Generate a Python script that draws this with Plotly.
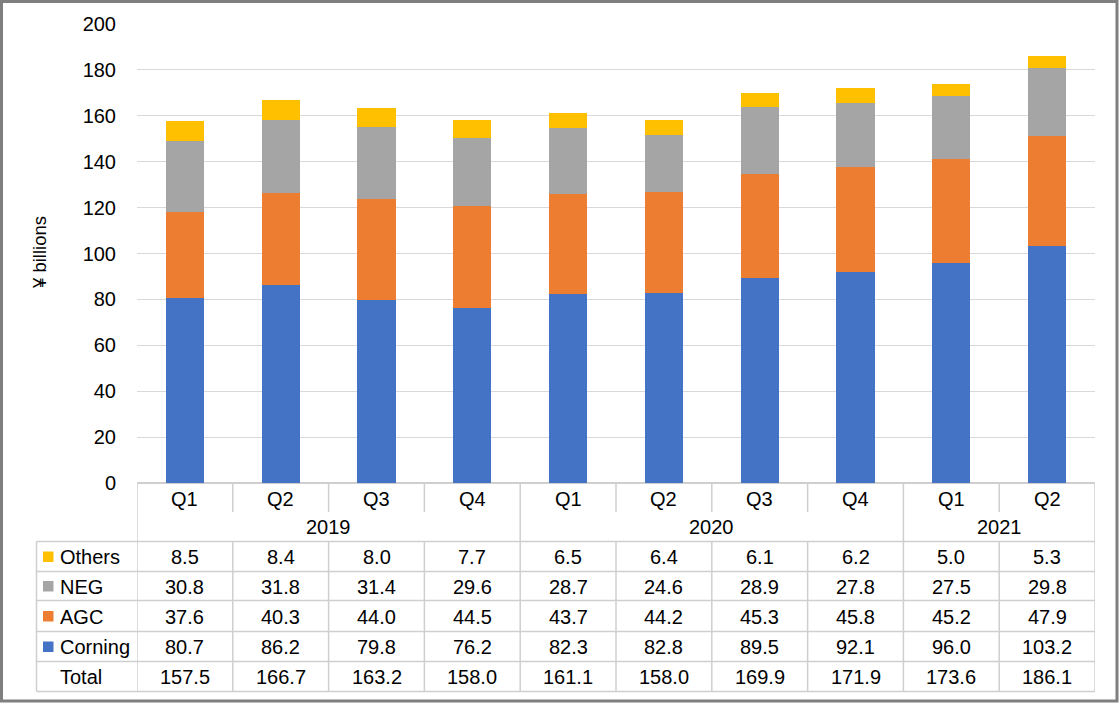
import plotly.graph_objects as go

# ---------------- data ----------------
quarters = ["Q1", "Q2", "Q3", "Q4", "Q1", "Q2", "Q3", "Q4", "Q1", "Q2"]
years = ["2019", "2019", "2019", "2019", "2020", "2020", "2020", "2020", "2021", "2021"]
series_names = ["Corning", "AGC", "NEG", "Others"]
corning = [80.7, 86.2, 79.8, 76.2, 82.3, 82.8, 89.5, 92.1, 96.0, 103.2]
agc = [37.6, 40.3, 44.0, 44.5, 43.7, 44.2, 45.3, 45.8, 45.2, 47.9]
neg = [30.8, 31.8, 31.4, 29.6, 28.7, 24.6, 28.9, 27.8, 27.5, 29.8]
others = [8.5, 8.4, 8.0, 7.7, 6.5, 6.4, 6.1, 6.2, 5.0, 5.3]
total = [157.5, 166.7, 163.2, 158.0, 161.1, 158.0, 169.9, 171.9, 173.6, 186.1]
y_ticks = [0, 20, 40, 60, 80, 100, 120, 140, 160, 180, 200]
y_title = "¥ billions"

colors = {"Corning": "#4472C4", "AGC": "#ED7D31", "NEG": "#A5A5A5", "Others": "#FFC000"}
values = {"Corning": corning, "AGC": agc, "NEG": neg, "Others": others}

# ---------------- geometry ----------------
W, H = 1119, 703
L, R, T, B = 137, 24, 24, 220
PW = W - L - R
PH = H - T - B
FONT = "Liberation Sans, Arial, sans-serif"
FS = 20
GRID = "#d9d9d9"
TLINE = "#cfcfcf"


def px(xpix):
    return (xpix - L) / PW


def py(ypix):
    return (H - B - ypix) / PH


n = len(quarters)
xs = list(range(n))

fig = go.Figure()
for name in series_names:
    fig.add_trace(go.Bar(
        x=xs, y=values[name], name=name, width=0.4,
        marker=dict(color=colors[name], line=dict(width=0)),
        showlegend=False,
    ))

shapes = []
annotations = []

# table row boundaries (pixels)
q_top, q_bot = 483, 512
yr_bot = 541.5
row_edges = [541.5, 571.5, 600.5, 631.5, 661.5, 691.5]
legend_left = 36.5

line = dict(color=TLINE, width=1.5)

# Q row verticals
for i in range(n + 1):
    shapes.append(dict(type="line", xref="x", yref="paper", x0=i - 0.5, x1=i - 0.5,
                       y0=py(q_top), y1=py(q_bot), line=line))
# year group verticals
bounds = [0]
for i in range(1, n):
    if years[i] != years[i - 1]:
        bounds.append(i)
bounds.append(n)
for b in bounds:
    shapes.append(dict(type="line", xref="x", yref="paper", x0=b - 0.5, x1=b - 0.5,
                       y0=py(q_bot), y1=py(yr_bot), line=line))
# data rows verticals
for i in range(n + 1):
    shapes.append(dict(type="line", xref="x", yref="paper", x0=i - 0.5, x1=i - 0.5,
                       y0=py(row_edges[0]), y1=py(row_edges[-1]), line=line))
shapes.append(dict(type="line", xref="paper", yref="paper", x0=px(legend_left), x1=px(legend_left),
                   y0=py(row_edges[0]), y1=py(row_edges[-1]), line=line))
# horizontals
for e in row_edges:
    shapes.append(dict(type="line", xref="paper", yref="paper", x0=px(legend_left), x1=1.0,
                       y0=py(e), y1=py(e), line=line, layer="above"))


def ann(x, y, text, xref="x", xanchor="center", size=FS, **kw):
    return dict(x=x, y=y, xref=xref, yref="paper", text=text, showarrow=False,
                xanchor=xanchor, yanchor="middle",
                font=dict(size=size, color="#000", family=FONT), **kw)


# quarter labels
for i, q in enumerate(quarters):
    annotations.append(ann(i, py((q_top + q_bot) / 2 + 1), q))
# year labels
for a, b in zip(bounds[:-1], bounds[1:]):
    annotations.append(ann((a + b - 1) / 2, py((q_bot + yr_bot) / 2 + 0.5), years[a]))

# data rows
table_rows = [("Others", others), ("NEG", neg), ("AGC", agc), ("Corning", corning), ("Total", total)]
for r, (name, vals) in enumerate(table_rows):
    yc = (row_edges[r] + row_edges[r + 1]) / 2
    for i, v in enumerate(vals):
        annotations.append(ann(i, py(yc + 0.5), f"{v:.1f}"))
    annotations.append(ann(px(58), py(yc + 0.5), name, xref="paper", xanchor="left"))
    if name in colors:
        shapes.append(dict(type="rect", xref="paper", yref="paper", x0=px(43), x1=px(53.5),
                           y0=py(yc - 5), y1=py(yc + 5.5), fillcolor=colors[name],
                           line=dict(width=0)))

# y-axis title
annotations.append(ann(px(39), py(253), y_title, xref="paper", size=18.5, textangle=-90))

# outer frame
shapes.append(dict(type="rect", xref="paper", yref="paper", x0=px(1.5), x1=px(W - 2),
                   y0=py(1.5), y1=py(H - 2), line=dict(color="#7f7f7f", width=3),
                   fillcolor="rgba(0,0,0,0)"))

fig.update_layout(
    width=W, height=H, barmode="stack",
    margin=dict(l=L, r=R, t=T, b=B, pad=0),
    paper_bgcolor="white", plot_bgcolor="white",
    font=dict(family=FONT, size=FS, color="#000"),
    shapes=shapes, annotations=annotations,
    xaxis=dict(range=[-0.5, n - 0.5], showticklabels=False, showgrid=False, zeroline=False,
               showline=False, fixedrange=True),
    yaxis=dict(range=[0, 200], tickvals=y_ticks, showgrid=True, gridcolor=GRID, gridwidth=1.3,
               zeroline=True, zerolinecolor=TLINE, zerolinewidth=1.5, showline=False,
               ticks="", ticklabelstandoff=20,
               tickfont=dict(size=FS, color="#000", family=FONT)),
)

fig.write_html("out.html", config={"displayModeBar": False},
               post_script="document.body.style.margin='0';document.body.style.overflow='hidden';")
